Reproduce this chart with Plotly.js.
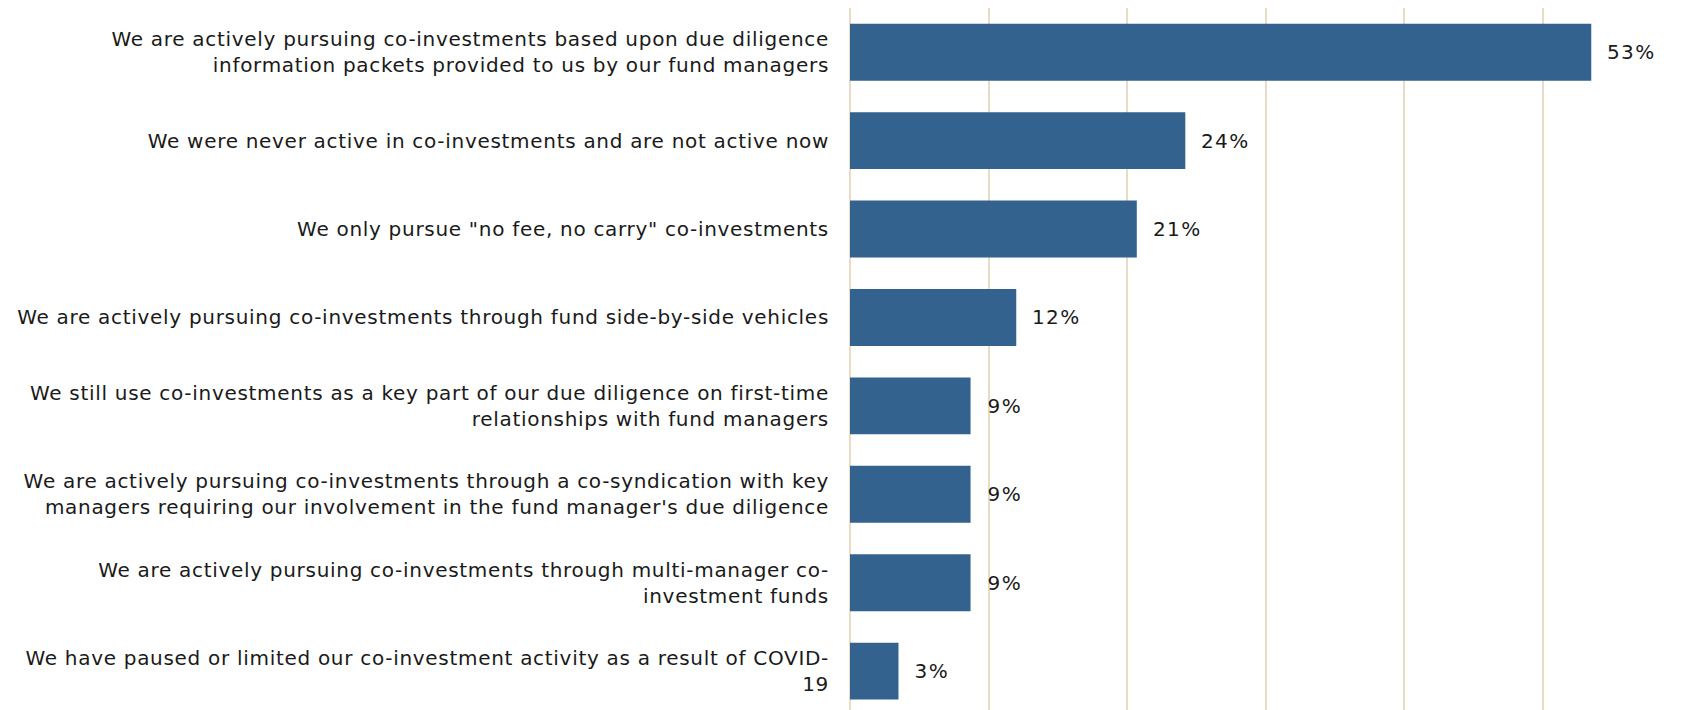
<!DOCTYPE html>
<html>
<head>
<meta charset="utf-8">
<script src="https://cdn.plot.ly/plotly-3.0.1.min.js"></script>
<style>
html, body { margin: 0; padding: 0; background: #ffffff; }
#chart { width: 1684px; height: 710px; }
#chart .ytick text { letter-spacing: 0.7px; }
#chart .annotation-text { letter-spacing: 1.4px; }
</style>
</head>
<body>
<div id="chart"></div>
<script>
var categories = [
  "We are actively pursuing co-investments based upon due diligence<br>information packets provided to us by our fund managers",
  "We were never active in co-investments and are not active now",
  "We only pursue \"no fee, no carry\" co-investments",
  "We are actively pursuing co-investments through fund side-by-side vehicles",
  "We still use co-investments as a key part of our due diligence on first-time<br>relationships with fund managers",
  "We are actively pursuing co-investments through a co-syndication with key<br>managers requiring our involvement in the fund manager's due diligence",
  "We are actively pursuing co-investments through multi-manager co-<br>investment funds",
  "We have paused or limited our co-investment activity as a result of COVID-<br>19"
];
var values = [0.535, 0.242, 0.207, 0.120, 0.087, 0.087, 0.087, 0.035];
var valueLabels = ["53%", "24%", "21%", "12%", "9%", "9%", "9%", "3%"];

var fontFamily = "Verdana, 'DejaVu Sans', sans-serif";

var trace = {
  type: "bar",
  orientation: "h",
  y: categories,
  x: values,
  marker: { color: "#33628f", line: { width: 0 } },
  hoverinfo: "none"
};

var annotations = values.map(function (v, i) {
  return {
    x: v, y: categories[i], xref: "x", yref: "y",
    text: valueLabels[i], showarrow: false,
    xanchor: "left", yanchor: "middle", xshift: 16,
    font: { family: fontFamily, size: 20, color: "#1a1a1a" }
  };
});

var layout = {
  width: 1684, height: 710,
  margin: { l: 850, r: 2, t: 8, b: 0, pad: 0 },
  paper_bgcolor: "#ffffff",
  plot_bgcolor: "#ffffff",
  showlegend: false,
  bargap: 0.356,
  font: { family: fontFamily, size: 20, color: "#1a1a1a" },
  xaxis: {
    range: [0, 0.6005],
    dtick: 0.1,
    tick0: 0,
    showticklabels: false,
    showgrid: true,
    gridcolor: "#e9dcc7",
    gridwidth: 2,
    zeroline: true,
    zerolinecolor: "#e9dcc7",
    zerolinewidth: 2,
    showline: false,
    fixedrange: true
  },
  yaxis: {
    type: "category",
    range: [7.44, -0.5],
    showgrid: false,
    zeroline: false,
    showline: false,
    ticks: "",
    ticklabelstandoff: 20,
    tickfont: { family: fontFamily, size: 20, color: "#1a1a1a" },
    fixedrange: true
  },
  annotations: annotations
};

Plotly.newPlot("chart", [trace], layout, { displayModeBar: false, staticPlot: true });
</script>
</body>
</html>
